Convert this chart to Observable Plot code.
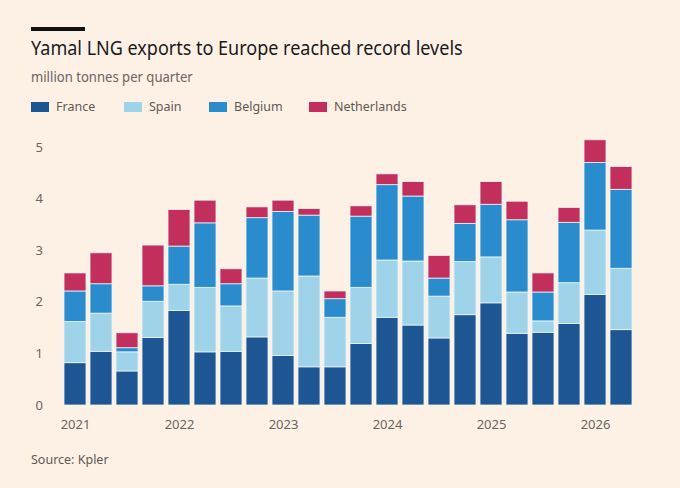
<!DOCTYPE html>
<html>
<head>
<meta charset="utf-8">
<script src="https://cdn.jsdelivr.net/npm/d3@7"></script>
<script src="https://cdn.jsdelivr.net/npm/@observablehq/plot@0.6"></script>
<style>
  html, body { margin: 0; padding: 0; background: #fdf1e6; }
  body { width: 680px; height: 488px; position: relative; overflow: hidden; font-family: "Noto Sans", sans-serif; }
  .bar { position: absolute; left: 31px; top: 27px; width: 54px; height: 4px; background: #111; }
  .title { position: absolute; left: 31px; top: 34px; font-size: 20px; color: #1a1a1a; white-space: nowrap; transform: scaleX(0.9); transform-origin: left top; }
  .sub { position: absolute; left: 31px; top: 68px; font-size: 13.5px; color: #6b645e; white-space: nowrap; transform: scaleX(0.97); transform-origin: left top; }
  .legend { position: absolute; left: 0; top: 98px; width: 680px; height: 20px; font-size: 12.5px; color: #5f5954; }
  .legend span.item { position: absolute; top: 0; display: flex; align-items: center; white-space: nowrap; }
  .legend i { display: inline-block; width: 18px; height: 10px; margin-right: 7px; }
  .source { position: absolute; left: 31px; top: 451px; font-size: 12.5px; color: #5f5954; }
  #chart { position: absolute; left: 0; top: 130px; }
</style>
</head>
<body>
<div class="bar"></div>
<div class="title">Yamal LNG exports to Europe reached record levels</div>
<div class="sub">million tonnes per quarter</div>
<div class="legend" id="legend"></div>
<div id="chart"></div>
<div class="source">Source: Kpler</div>
<script>
const quarters = ["2021Q1","2021Q2","2021Q3","2021Q4","2022Q1","2022Q2","2022Q3","2022Q4","2023Q1","2023Q2","2023Q3","2023Q4","2024Q1","2024Q2","2024Q3","2024Q4","2025Q1","2025Q2","2025Q3","2025Q4","2026Q1","2026Q2"];
const france      = [0.82,1.04,0.66,1.31,1.83,1.03,1.04,1.32,0.96,0.74,0.74,1.19,1.70,1.55,1.30,1.75,1.98,1.39,1.41,1.58,2.14,1.46];
const spain       = [0.80,0.74,0.37,0.70,0.51,1.25,0.88,1.14,1.25,1.76,0.96,1.09,1.11,1.24,0.81,1.03,0.89,0.80,0.22,0.79,1.25,1.19];
const belgium     = [0.59,0.57,0.08,0.30,0.74,1.25,0.43,1.17,1.54,1.18,0.36,1.38,1.46,1.26,0.35,0.74,1.02,1.40,0.56,1.17,1.31,1.53];
const netherlands = [0.35,0.60,0.29,0.79,0.71,0.44,0.29,0.21,0.22,0.13,0.15,0.20,0.21,0.28,0.44,0.36,0.44,0.36,0.37,0.29,0.44,0.44];
const countries = ["France","Spain","Belgium","Netherlands"];
const colors = ["#1e5593","#9ed3ea","#2a8ccc","#c22f5d"];
const yTicks = [0,1,2,3,4,5];

const series = [france, spain, belgium, netherlands];
const rows = [];
quarters.forEach((q, i) => {
  countries.forEach((c, j) => rows.push({quarter: q, country: c, value: series[j][i]}));
});

const legend = document.getElementById("legend");
const legendX = [31, 124, 209, 309];
countries.forEach((c, j) => {
  const s = document.createElement("span");
  s.className = "item";
  s.style.left = legendX[j] + "px";
  s.innerHTML = `<i style="background:${colors[j]}"></i>${c}`;
  legend.appendChild(s);
});

const chart = Plot.plot({
  width: 680,
  height: 310,
  marginLeft: 60,
  marginRight: 43,
  marginTop: 17,
  marginBottom: 35,
  style: {background: "transparent", fontFamily: "Noto Sans, sans-serif"},
  x: {domain: quarters, padding: 0.15, label: null, axis: null},
  y: {domain: [0, 5], label: null, axis: null},
  color: {domain: countries, range: colors},
  marks: [
    Plot.barY(rows, Plot.stackY({
      x: "quarter", y: "value", fill: "country", order: countries,
      stroke: "#e8f4fa", strokeWidth: 0.8
    })),
    Plot.axisX({
      ticks: quarters.filter(q => q.endsWith("Q1")),
      tickFormat: q => q.slice(0, 4),
      tickSize: 0, tickPadding: 14, fontSize: 13, fill: "#6b645e", label: null
    }),
    Plot.text(yTicks, {
      y: d => d, text: d => String(d), frameAnchor: "left",
      dx: -25, textAnchor: "start", fontSize: 13, fill: "#6b645e"
    })
  ]
});
document.getElementById("chart").appendChild(chart);
</script>
</body>
</html>
